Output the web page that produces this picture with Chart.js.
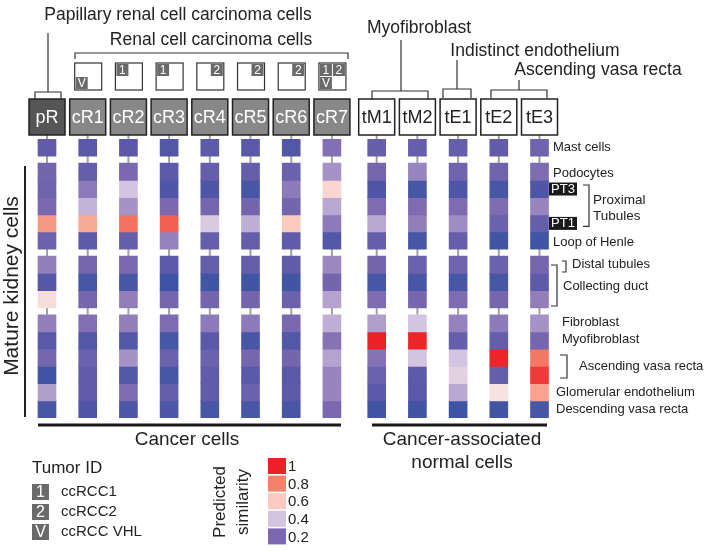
<!DOCTYPE html>
<html><head><meta charset="utf-8">
<script src="https://cdn.jsdelivr.net/npm/chart.js@4.4.0/dist/chart.umd.min.js"></script>
<style>html,body{margin:0;padding:0;background:#fff;}canvas{display:block}</style>
</head><body>
<canvas id="c" width="710" height="551"></canvas>
<script>
// ---------- data ----------
const columns = ['pR','cR1','cR2','cR3','cR4','cR5','cR6','cR7','tM1','tM2','tE1','tE2','tE3'];
const columnGroups = [0,0,0,0,0,0,0,0,1,1,1,1,1];
const rowLabels = ['Mast cells','Podocytes','PT3','PT2','PT1','Loop of Henle','Distal tubules',
  'Collecting duct a','Collecting duct b','Fibroblast','Myofibroblast','Ascending vasa recta a',
  'Ascending vasa recta b','Glomerular endothelium','Descending vasa recta'];
const rowGroups = [0,1,1,1,1,1,2,2,2,3,3,3,3,3,3];
// predicted similarity per column (rows in rowLabels order)
const pR  = [0.13,0.18,0.17,0.20,0.74,0.16,0.26,0.10,0.52,0.26,0.11,0.19,0.03,0.33,0.05];
const cR1 = [0.11,0.14,0.25,0.37,0.69,0.12,0.19,0.05,0.19,0.22,0.09,0.16,0.13,0.13,0.08];
const cR2 = [0.11,0.20,0.40,0.31,0.83,0.14,0.20,0.05,0.26,0.26,0.09,0.31,0.09,0.21,0.07];
const cR3 = [0.09,0.12,0.07,0.20,0.87,0.27,0.12,0.01,0.19,0.21,0.05,0.16,0.05,0.14,0.07];
const cR4 = [0.12,0.14,0.07,0.19,0.42,0.14,0.14,0.03,0.18,0.25,0.11,0.16,0.13,0.13,0.05];
const cR5 = [0.11,0.14,0.05,0.18,0.36,0.14,0.14,0.03,0.18,0.25,0.05,0.19,0.11,0.16,0.05];
const cR6 = [0.09,0.16,0.25,0.18,0.60,0.13,0.13,0.03,0.16,0.20,0.09,0.18,0.11,0.12,0.05];
const cR7 = [0.22,0.31,0.55,0.35,0.25,0.09,0.29,0.18,0.34,0.36,0.23,0.34,0.28,0.28,0.20];
const tM1 = [0.14,0.19,0.08,0.21,0.35,0.14,0.18,0.05,0.21,0.33,1.00,0.23,0.16,0.11,0.03];
const tM2 = [0.14,0.28,0.05,0.21,0.26,0.05,0.16,0.05,0.19,0.40,0.99,0.40,0.12,0.11,0.03];
const tE1 = [0.14,0.17,0.08,0.21,0.30,0.14,0.17,0.05,0.21,0.27,0.14,0.40,0.44,0.35,0.01];
const tE2 = [0.13,0.17,0.05,0.21,0.16,0.03,0.16,0.05,0.19,0.25,0.14,0.99,0.14,0.50,0.03];
const tE3 = [0.17,0.21,0.08,0.28,0.14,0.03,0.19,0.12,0.26,0.31,0.19,0.82,0.95,0.71,0.05];
const columnValues = [pR,cR1,cR2,cR3,cR4,cR5,cR6,cR7,tM1,tM2,tE1,tE2,tE3];
const tumorTags = ['', 'V', '1', '1', '2', '2', '2', '12V', '', '', '', '', ''];
const legendValues = [1, 0.8, 0.6, 0.4, 0.2];
const legendTicks = ['1', '0.8', '0.6', '0.4', '0.2'];

// ---------- colour scale ----------
const stops = [[0,[58,84,164]],[0.1,[86,87,168]],[0.2,[122,104,176]],[0.3,[160,140,195]],
  [0.4,[211,196,225]],[0.5,[246,226,224]],[0.6,[252,202,190]],[0.8,[244,130,104]],[1,[236,32,38]]];
function cmap(v){
  v = Math.max(0, Math.min(1, v));
  for (let k = 1; k < stops.length; k++){
    if (v <= stops[k][0]){
      const [a, ca] = stops[k-1], [b, cb] = stops[k];
      const t = (v - a) / (b - a);
      const c = ca.map((x, i) => Math.round(x + (cb[i] - x) * t));
      return `rgb(${c[0]},${c[1]},${c[2]})`;
    }
  }
  return 'rgb(236,32,38)';
}

const COL_GAP = 0.1, ROW_GAP = 0.407;
const colX = j => j + COL_GAP * columnGroups[j];
const rowTop = i => i + ROW_GAP * rowGroups[i];
const rowEnd = rowTop(rowLabels.length - 1) + 1;

const datasets = rowLabels.map((lab, i) => ({
  label: lab,
  data: columns.map((c, j) => ({x: colX(j), y: [rowTop(i), rowTop(i) + 1]})),
  backgroundColor: columns.map((c, j) => cmap(columnValues[j][i])),
  borderWidth: 0,
  barThickness: 18,
  grouped: false
}));

const FONT = '"Liberation Sans", Arial, Helvetica, sans-serif';
function txt(ctx, s, x, y, size, align, color){
  ctx.font = size + 'px ' + FONT;
  ctx.fillStyle = color || '#222';
  ctx.textAlign = align || 'left';
  ctx.textBaseline = 'middle';
  ctx.fillText(s, x, y);
}
function line(ctx, pts, w, color){
  ctx.beginPath();
  ctx.moveTo(pts[0][0], pts[0][1]);
  for (let k = 1; k < pts.length; k++) ctx.lineTo(pts[k][0], pts[k][1]);
  ctx.lineWidth = w || 1.2;
  ctx.strokeStyle = color || '#333';
  ctx.stroke();
}

const decor = {
  id: 'decor',
  beforeDatasetsDraw(chart){
    const ctx = chart.ctx, xs = chart.scales.x, ys = chart.scales.y;
    const yEnd = ys.getPixelForValue(rowTop(9));
    ctx.save();
    columns.forEach((c, j) => {
      const px = xs.getPixelForValue(colX(j));
      line(ctx, [[px, 135], [px, yEnd]], 2, '#a0a0a0');
    });
    ctx.restore();
  },
  afterDraw(chart){
    const ctx = chart.ctx, xs = chart.scales.x, ys = chart.scales.y;
    const rc = i => ys.getPixelForValue(rowTop(i) + 0.5);
    ctx.save();
    // header boxes
    columns.forEach((c, j) => {
      const px = xs.getPixelForValue(colX(j));
      const left = j === 0 ? '#555555' : (columnGroups[j] === 0 ? '#888888' : '#ffffff');
      ctx.fillStyle = left;
      ctx.fillRect(px - 18, 99, 36, 36);
      ctx.lineWidth = 1.5; ctx.strokeStyle = '#222';
      ctx.strokeRect(px - 18, 99, 36, 36);
      txt(ctx, c, px, 118, 18, 'center', columnGroups[j] === 0 ? '#ffffff' : '#222');
      const tag = tumorTags[j];
      if (columnGroups[j] === 0 && j > 0){
        const bx = px - 13, by = 63, s = 27;
        ctx.fillStyle = '#fff'; ctx.fillRect(bx, by, s, s);
        ctx.lineWidth = 1.2; ctx.strokeStyle = '#333'; ctx.strokeRect(bx, by, s, s);
        const q = 12;
        const put = (ch, x, y) => {
          ctx.fillStyle = '#6a6a6a'; ctx.fillRect(x, y, q, q);
          txt(ctx, ch, x + q / 2, y + q / 2 + 0.5, 12, 'center', '#fff');
        };
        if (tag.includes('1')) put('1', bx + 1, by + 1);
        if (tag.includes('2')) put('2', bx + s - q - 1, by + 1);
        if (tag.includes('V')) put('V', bx + 1, by + s - q - 1);
      }
    });
    // header titles and brackets
    txt(ctx, 'Papillary renal cell carcinoma cells', 178, 15, 17.5, 'center');
    txt(ctx, 'Renal cell carcinoma cells', 211, 40, 17.5, 'center');
    txt(ctx, 'Myofibroblast', 419, 28, 17.5, 'center');
    txt(ctx, 'Indistinct endothelium', 535, 51, 17.5, 'center');
    txt(ctx, 'Ascending vasa recta', 598, 70, 17.5, 'center');
    line(ctx, [[48, 33], [48, 92]]);
    line(ctx, [[35, 99], [35, 92], [61, 92], [61, 99]]);
    line(ctx, [[75, 59], [75, 53], [348, 53], [348, 59]]);
    line(ctx, [[401, 40], [401, 91]]);
    line(ctx, [[372, 99], [372, 91], [428, 91], [428, 99]]);
    line(ctx, [[457, 60], [457, 89]]);
    line(ctx, [[443, 98], [443, 89], [471, 89], [471, 98]]);
    line(ctx, [[519, 80], [519, 90]]);
    line(ctx, [[491, 98], [491, 90], [547, 90], [547, 98]]);

    // right row labels
    txt(ctx, 'Mast cells', 553, rc(0), 13);
    txt(ctx, 'Podocytes', 553, rc(1) + 2, 13);
    [[2, 'PT3'], [4, 'PT1']].forEach(([r, s]) => {
      const y = rc(r);
      ctx.fillStyle = '#1a1a1a'; ctx.fillRect(549, y - 6.5, 28, 13);
      txt(ctx, s, 563, y + 0.5, 13, 'center', '#fff');
    });
    line(ctx, [[583, rc(2) - 4], [589, rc(2) - 4], [589, rc(4) + 3], [583, rc(4) + 3]]);
    txt(ctx, 'Proximal', 593, 200, 13.5);
    txt(ctx, 'Tubules', 593, 216, 13.5);
    txt(ctx, 'Loop of Henle', 553, rc(5) + 2, 13);
    line(ctx, [[562, 261], [566, 261], [566, 272], [562, 272]]);
    txt(ctx, 'Distal tubules', 572, rc(6), 13);
    line(ctx, [[551, 265], [557, 265], [557, 306], [551, 306]]);
    txt(ctx, 'Collecting duct', 563, (rc(7) + rc(8)) / 2 - 4, 13);
    txt(ctx, 'Fibroblast', 562, rc(9) - 1, 13);
    txt(ctx, 'Myofibroblast', 562, rc(10) - 1, 13);
    line(ctx, [[560, 355], [567, 355], [567, 378], [560, 378]]);
    txt(ctx, 'Ascending vasa recta', 579, (rc(11) + rc(12)) / 2, 13);
    txt(ctx, 'Glomerular endothelium', 556, rc(13), 13);
    txt(ctx, 'Descending vasa recta', 556, rc(14), 13);

    // left axis label
    line(ctx, [[25, 166], [25, 417]], 2, '#222');
    ctx.save();
    ctx.translate(12, 286); ctx.rotate(-Math.PI / 2);
    txt(ctx, 'Mature kidney cells', 0, 0, 21, 'center');
    ctx.restore();

    // bottom group lines
    line(ctx, [[38, 425], [341, 425]], 3, '#1a1a1a');
    line(ctx, [[372, 425], [547, 425]], 3, '#1a1a1a');
    txt(ctx, 'Cancer cells', 187, 440, 19, 'center');
    txt(ctx, 'Cancer-associated', 462, 440, 19, 'center');
    txt(ctx, 'normal cells', 462, 463, 19, 'center');

    // tumor ID legend
    txt(ctx, 'Tumor ID', 32, 468, 17);
    [['1', 'ccRCC1'], ['2', 'ccRCC2'], ['V', 'ccRCC VHL']].forEach(([ch, s], k) => {
      const y = 484 + k * 20;
      ctx.fillStyle = '#6a6a6a'; ctx.fillRect(32, y, 17, 16);
      txt(ctx, ch, 40.5, y + 8.5, 16, 'center', '#fff');
      txt(ctx, s, 61, y + 7.5, 15);
    });

    // colour legend
    ctx.save();
    ctx.translate(220, 502); ctx.rotate(-Math.PI / 2);
    txt(ctx, 'Predicted', 0, 0, 17, 'center');
    ctx.restore();
    ctx.save();
    ctx.translate(243, 502); ctx.rotate(-Math.PI / 2);
    txt(ctx, 'similarity', 0, 0, 17, 'center');
    ctx.restore();
    legendValues.forEach((v, k) => {
      const y = 458 + k * 17.6;
      ctx.fillStyle = cmap(v); ctx.fillRect(268, y, 18, 16);
      txt(ctx, legendTicks[k], 288, y + 9, 15);
    });
    ctx.restore();
  }
};

new Chart(document.getElementById('c'), {
  type: 'bar',
  data: { datasets },
  options: {
    responsive: false,
    animation: false,
    events: [],
    layout: { padding: { left: 26.65, right: 147.7, top: 139, bottom: 133 } },
    scales: {
      x: { type: 'linear', min: -0.5, max: 12.66, offset: false, display: false },
      y: { type: 'linear', min: 0, max: rowEnd, reverse: true, offset: false, display: false }
    },
    plugins: { legend: { display: false }, tooltip: { enabled: false } }
  },
  plugins: [decor]
});
</script>
</body></html>
